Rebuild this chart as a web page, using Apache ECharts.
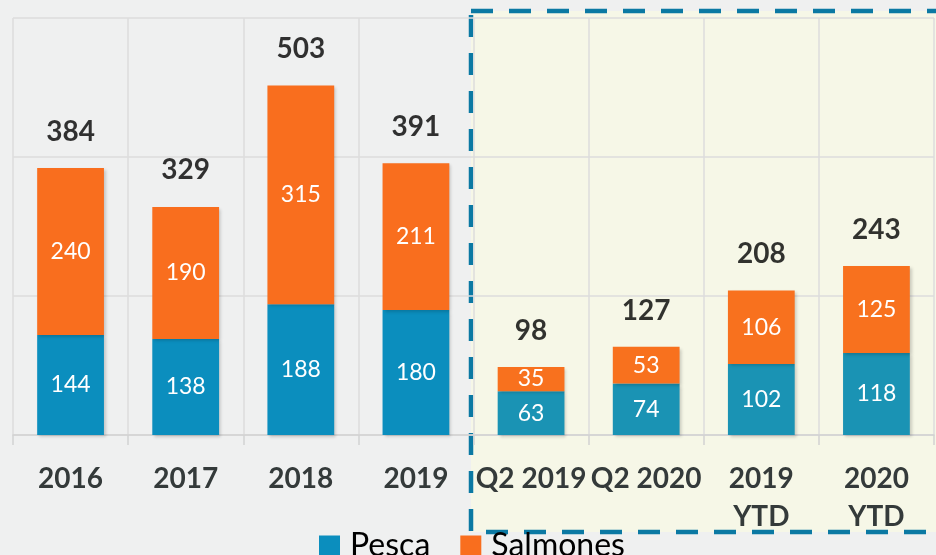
<!DOCTYPE html>
<html>
<head>
<meta charset="utf-8">
<script src="https://cdn.jsdelivr.net/npm/echarts@6/dist/echarts.min.js"></script>
<style>
  html, body { margin: 0; padding: 0; background: #eff0f0; }
  #chart { width: 936px; height: 555px; }
</style>
</head>
<body>
<div id="chart"></div>
<script>
  // categorias y valores
  var categories = ['2016', '2017', '2018', '2019', 'Q2 2019', 'Q2 2020', '2019\nYTD', '2020\nYTD']
  var pesca = [144, 138, 188, 180, 63, 74, 102, 118]
  var salmones = [240, 190, 315, 211, 35, 53, 106, 125]
  var totals = [384, 329, 503, 391, 98, 127, 208, 243]
  var yTicks = [0, 200, 400, 600]

  var fontFamily = 'Lato, "Open Sans", sans-serif'
  var barShadow = {shadowBlur: 3, shadowOffsetX: 2, shadowOffsetY: 2, shadowColor: 'rgba(0,0,0,0.18)'}

  // los ultimos 4 van dentro del recuadro, con un tono algo distinto
  function colorize(arr, left, right) {
    return arr.map(function (v, i) {
      return {value: v, itemStyle: {color: i >= 4 ? right : left}}
    })
  }

  var myChart = echarts.init(document.getElementById('chart'))
  var option = {
    backgroundColor: '#eff0f0',
    animation: false,
    textStyle: {fontFamily: fontFamily},
    graphic: [
      {
        type: 'rect',
        z: 0,
        shape: {x: 471, y: 11, width: 480, height: 521},
        style: {fill: '#f6f7e7', stroke: '#0b79a3', lineWidth: 4.5, lineDash: [22, 16]}
      }
    ],
    legend: {
      data: ['Pesca', 'Salmones'],
      left: 314,
      top: 525,
      icon: 'rect',
      itemWidth: 21,
      itemHeight: 21,
      itemGap: 30,
      textStyle: {fontSize: 32, color: '#000', fontFamily: fontFamily, padding: [0, 0, 0, 5]}
    },
    grid: {left: 13, right: 2, top: 18, bottom: 120},
    xAxis: {
      type: 'category',
      data: categories,
      z: 1,
      axisLine: {lineStyle: {color: '#d2d2d2', width: 1.5}},
      axisTick: {show: true, length: 10, lineStyle: {color: '#d2d2d2', width: 1.5}},
      splitLine: {show: true, lineStyle: {color: '#dcdcdc', width: 1.5}},
      axisLabel: {
        interval: 0,
        margin: 25,
        fontSize: 28,
        fontWeight: 'bold',
        lineHeight: 38,
        color: '#343a3a',
        fontFamily: fontFamily
      }
    },
    yAxis: {
      type: 'value',
      min: yTicks[0],
      max: yTicks[yTicks.length - 1],
      interval: 200,
      z: 1,
      axisLabel: {show: false},
      axisLine: {show: false},
      axisTick: {show: false},
      splitLine: {show: true, lineStyle: {color: '#dcdcdc', width: 1.5}}
    },
    series: [
      {
        name: 'Pesca',
        type: 'bar',
        stack: 'a',
        barWidth: '58%',
        color: '#0b8ebe',
        data: colorize(pesca, '#0b8ebe', '#1a93b4'),
        itemStyle: barShadow,
        label: {show: true, position: 'inside', color: '#fff', fontSize: 23, fontFamily: fontFamily}
      },
      {
        name: 'Salmones',
        type: 'bar',
        stack: 'a',
        barWidth: '58%',
        color: '#f96e1e',
        data: colorize(salmones, '#f96e1e', '#f8711e'),
        itemStyle: barShadow,
        label: {show: true, position: 'inside', color: '#fff', fontSize: 23, fontFamily: fontFamily}
      },
      {
        name: 'Total',
        type: 'scatter',
        symbolSize: 0,
        data: totals,
        silent: true,
        label: {
          show: true,
          position: 'top',
          distance: 22,
          color: '#000',
          fontSize: 28,
          fontWeight: 'bold',
          fontFamily: fontFamily
        }
      }
    ]
  }
  myChart.setOption(option, true)
</script>
</body>
</html>
